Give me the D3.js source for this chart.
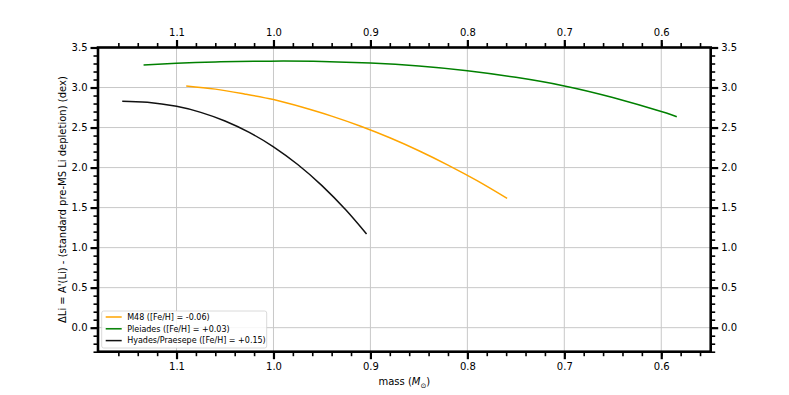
<!DOCTYPE html>
<html>
<head>
<meta charset="utf-8">
<script src="https://cdn.jsdelivr.net/npm/d3@7"></script>
<style>
  body { margin: 0; background: #fff; }
  svg { font-family: "DejaVu Sans", sans-serif; }
</style>
</head>
<body>
<script>
const width = 789;
const height = 395;

// series: [mass, delta Li]
const m48 = [
    [1.090, 3.02], [1.060, 2.98], [1.030, 2.92], [1.000, 2.85], [0.970, 2.753],
    [0.940, 2.643], [0.910, 2.516], [0.880, 2.372], [0.850, 2.21], [0.820, 2.031],
    [0.790, 1.836], [0.759, 1.615]
];
const pleiades = [
    [1.134, 3.28], [1.100, 3.302], [1.060, 3.319], [1.020, 3.328], [0.990, 3.33],
    [0.950, 3.326], [0.900, 3.306], [0.850, 3.269], [0.800, 3.21], [0.750, 3.127],
    [0.700, 3.02], [0.650, 2.875], [0.600, 2.70], [0.584, 2.635]
];
const hyades = [
    [1.156, 2.83], [1.130, 2.817], [1.100, 2.765], [1.075, 2.69], [1.050, 2.582],
    [1.025, 2.439], [1.000, 2.26], [0.975, 2.038], [0.950, 1.775], [0.925, 1.466],
    [0.904, 1.17]
];

const seriesNames = ['M48 ([Fe/H] = -0.06)', 'Pleiades ([Fe/H] = +0.03)', 'Hyades/Praesepe ([Fe/H] = +0.15)'];
const seriesColors = ['#ffa500', '#008000', '#111111'];
const seriesData = [m48, pleiades, hyades];

const xMajor = [1.1, 1.0, 0.9, 0.8, 0.7, 0.6];
const xMinor = d3.range(56, 118, 2).map(d => d / 100);
const yMajor = [0, 0.5, 1, 1.5, 2, 2.5, 3, 3.5];
const yMinor = d3.range(-3, 36, 1).map(d => d / 10);

let svg = d3.select('body')
    .append('svg')
    .attr('width', width)
    .attr('height', height);

let plotMargins = {
    top: 47.5,
    bottom: 43.3,
    left: 98,
    right: 78.3
};

let plotWidth = width - plotMargins.left - plotMargins.right;
let plotHeight = height - plotMargins.top - plotMargins.bottom;

let plotGroup = svg.append('g')
    .attr('transform', `translate(${plotMargins.left}, ${plotMargins.top})`);

let xScale = d3.scaleLinear()
    .domain([1.181, 0.549])
    .range([0, plotWidth]);
let yScale = d3.scaleLinear()
    .domain([-0.3, 3.5])
    .range([plotHeight, 0]);

// grid
let grid = plotGroup.append('g').classed('grid', true);
grid.selectAll('.gx')
    .data(xMajor)
    .enter().append('line')
    .attr('x1', d => xScale(d)).attr('x2', d => xScale(d))
    .attr('y1', 0).attr('y2', plotHeight)
    .style('stroke', '#c8c8c8').style('stroke-width', 1);
grid.selectAll('.gy')
    .data(yMajor)
    .enter().append('line')
    .attr('x1', 0).attr('x2', plotWidth)
    .attr('y1', d => yScale(d)).attr('y2', d => yScale(d))
    .style('stroke', '#c8c8c8').style('stroke-width', 1);

// curves
let line = d3.line()
    .x(d => xScale(d[0]))
    .y(d => yScale(d[1]))
    .curve(d3.curveNatural);

plotGroup.selectAll('.series')
    .data(seriesData)
    .enter().append('path')
    .attr('d', d => line(d))
    .style('fill', 'none')
    .style('stroke', (d, i) => seriesColors[i])
    .style('stroke-width', 1.5);

// axes
const fmt = d3.format('.1f');
function styleAxis(g, major) {
    g.select('.domain').remove();
    g.selectAll('.tick line').style('stroke', '#000').style('stroke-width', major ? 2.2 : 1.6);
    g.selectAll('.tick text').style('font-size', '10px').style('fill', '#000')
        .style('font-family', '"DejaVu Sans", sans-serif');
}

plotGroup.append('g').attr('transform', `translate(0, ${plotHeight})`)
    .call(d3.axisBottom(xScale).tickValues(xMinor).tickFormat('').tickSize(4.5).tickSizeOuter(0))
    .call(g => styleAxis(g, false));
plotGroup.append('g').attr('transform', `translate(0, ${plotHeight})`)
    .call(d3.axisBottom(xScale).tickValues(xMajor).tickFormat(fmt).tickSize(7.5).tickPadding(4).tickSizeOuter(0))
    .call(g => styleAxis(g, true));
plotGroup.append('g')
    .call(d3.axisTop(xScale).tickValues(xMinor).tickFormat('').tickSize(4.5).tickSizeOuter(0))
    .call(g => styleAxis(g, false));
plotGroup.append('g')
    .call(d3.axisTop(xScale).tickValues(xMajor).tickFormat(fmt).tickSize(7.5).tickPadding(4).tickSizeOuter(0))
    .call(g => styleAxis(g, true));

plotGroup.append('g')
    .call(d3.axisLeft(yScale).tickValues(yMinor).tickFormat('').tickSize(4.5).tickSizeOuter(0))
    .call(g => styleAxis(g, false));
plotGroup.append('g')
    .call(d3.axisLeft(yScale).tickValues(yMajor).tickFormat(fmt).tickSize(7.5).tickPadding(3).tickSizeOuter(0))
    .call(g => styleAxis(g, true));
plotGroup.append('g').attr('transform', `translate(${plotWidth}, 0)`)
    .call(d3.axisRight(yScale).tickValues(yMinor).tickFormat('').tickSize(4.5).tickSizeOuter(0))
    .call(g => styleAxis(g, false));
plotGroup.append('g').attr('transform', `translate(${plotWidth}, 0)`)
    .call(d3.axisRight(yScale).tickValues(yMajor).tickFormat(fmt).tickSize(7.5).tickPadding(3).tickSizeOuter(0))
    .call(g => styleAxis(g, true));

// spine
plotGroup.append('rect')
    .attr('width', plotWidth)
    .attr('height', plotHeight)
    .style('fill', 'none')
    .style('stroke', '#000')
    .style('stroke-width', 2.6);

// legend
let legend = plotGroup.append('g')
    .attr('transform', 'translate(3.7, 263.5)');
legend.append('rect')
    .attr('width', 165)
    .attr('height', 37)
    .attr('rx', 2)
    .style('fill', '#fff')
    .style('fill-opacity', 0.85)
    .style('stroke', '#d0d0d0')
    .style('stroke-width', 0.8);
let items = legend.selectAll('.item')
    .data(seriesNames)
    .enter().append('g')
    .attr('transform', (d, i) => `translate(0, ${6 + i * 11.8})`);
items.append('line')
    .attr('x1', 4).attr('x2', 20)
    .style('stroke', (d, i) => seriesColors[i])
    .style('stroke-width', 1.5);
items.append('text')
    .attr('x', 25.5)
    .attr('dy', '0.35em')
    .style('font-size', '8px')
    .text(d => d);

// axis labels
let xLabel = svg.append('text')
    .attr('x', plotMargins.left + plotWidth / 2)
    .attr('y', 385)
    .attr('text-anchor', 'middle')
    .style('font-size', '10px');
xLabel.append('tspan').text('mass (');
xLabel.append('tspan').style('font-style', 'italic').text('M');
xLabel.append('tspan').attr('dy', 2.5).style('font-size', '7px').text('⊙');
xLabel.append('tspan').attr('dy', -2.5).text(')');

svg.append('text')
    .attr('transform', `translate(66, ${plotMargins.top + plotHeight / 2}) rotate(-90)`)
    .attr('text-anchor', 'middle')
    .style('font-size', '10px')
    .text("ΔLi = A'(Li) - (standard pre-MS Li depletion) (dex)");
</script>
</body>
</html>
